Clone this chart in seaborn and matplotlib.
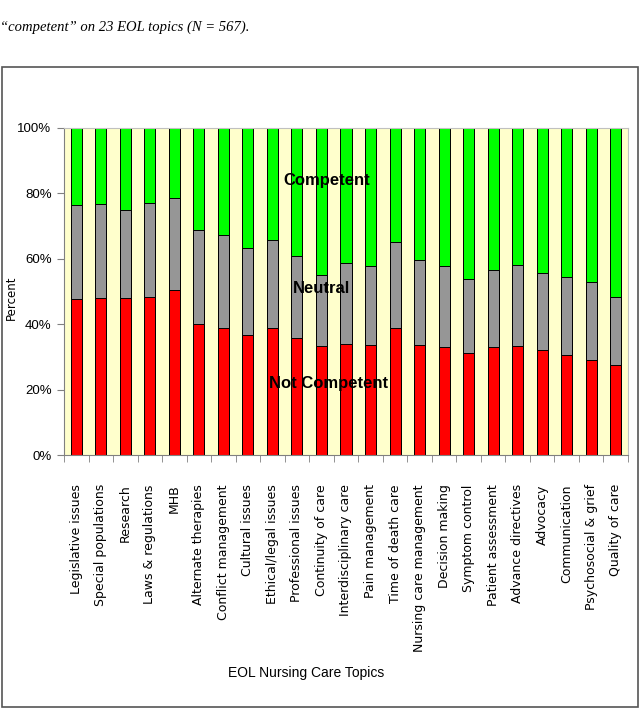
import pandas as pd
import matplotlib.pyplot as plt
import seaborn as sns
from matplotlib.patches import Rectangle

topics = ['Legislative issues', 'Special populations', 'Research', 'Laws & regulations', 'MHB',
          'Alternate therapies', 'Conflict management', 'Cultural issues', 'Ethical/legal issues',
          'Professional issues', 'Continuity of care', 'Interdisciplinary care', 'Pain management',
          'Time of death care', 'Nursing care management', 'Decision making', 'Symptom control',
          'Patient assessment', 'Advance directives', 'Advocacy', 'Communication',
          'Psychosocial & grief', 'Quality of care']

# percent of nurses per rating
not_competent = [47.7, 48.0, 48.0, 48.3, 50.4, 40.2, 38.8, 36.6, 38.8, 35.7, 33.2, 33.9,
                 33.6, 38.8, 33.6, 32.9, 31.2, 32.9, 33.3, 32.2, 30.5, 29.1, 27.6]
neutral = [28.6, 28.7, 27.0, 28.7, 28.1, 28.5, 28.4, 26.8, 27.0, 25.2, 21.7, 24.9,
           24.3, 26.4, 25.9, 25.0, 22.7, 23.7, 24.8, 23.4, 23.8, 23.8, 20.7]

df = pd.DataFrame({'topic': topics, 'not_competent': not_competent, 'neutral': neutral})
df['competent'] = 100 - df['not_competent'] - df['neutral']
df['lower_two'] = df['not_competent'] + df['neutral']
df['total'] = df['lower_two'] + df['competent']

fig = plt.figure(figsize=(6.39, 7.08), dpi=100)
ax = fig.add_axes([64/639, 1-455/708, (628-64)/639, (455-128)/708])
ax.set_facecolor('#FFFFCC')

bar_kw = dict(width=0.45, edgecolor='black', linewidth=0.7, errorbar=None, ax=ax)
sns.barplot(data=df, x='topic', y='total', color='#00FF00', saturation=1, **bar_kw)
sns.barplot(data=df, x='topic', y='lower_two', color='#969696', saturation=1, **bar_kw)
sns.barplot(data=df, x='topic', y='not_competent', color='#FF0000', saturation=1, **bar_kw)

ax.set_xlim(-0.5, len(topics) - 0.5)
ax.set_ylim(0, 100)
ax.set_yticks([0, 20, 40, 60, 80, 100])
ax.set_yticklabels([f'{v}%' for v in [0, 20, 40, 60, 80, 100]], family='Liberation Sans', fontsize=9.5)
ax.set_xticks(range(len(topics)))
ax.set_xticklabels(topics, rotation=90, fontsize=9, family='DejaVu Sans')
ax.set_xticks([i + 0.5 for i in range(-1, len(topics))], minor=True)
ax.tick_params(axis='x', which='major', length=0, pad=21)
ax.tick_params(axis='x', which='minor', length=5, color='#808080')
ax.tick_params(axis='y', length=5, color='#808080', pad=4)
ax.set_xlabel('')
ax.set_ylabel('Percent', fontsize=8.5)
ax.yaxis.set_label_coords((18-64)/564, 0.48)

for side in ['left', 'bottom']:
    ax.spines[side].set_color('#808080')
for side in ['top', 'right']:
    ax.spines[side].set_color('#C0C0C0')

ax.text(10.2, 84, 'Competent', ha='center', va='center', fontsize=12, fontweight='bold',
        family='Liberation Sans')
ax.text(10.0, 51, 'Neutral', ha='center', va='center', fontsize=12, fontweight='bold',
        family='Liberation Sans')
ax.text(10.3, 22, 'Not Competent', ha='center', va='center', fontsize=12, fontweight='bold',
        family='Liberation Sans')

fig.text(306/639, 1-673/708, 'EOL Nursing Care Topics', ha='center', va='center',
         fontsize=10, family='Liberation Sans')
fig.text(0.0, 1-27/708, '\u201ccompetent\u201d on 23 EOL topics (N = 567).', ha='left', va='center',
         fontsize=10.5, style='italic', family='Liberation Serif')

fig.patches.append(Rectangle((1.5/639, 1-706.5/708), 636/639, (706.5-67)/708,
                             transform=fig.transFigure, fill=False, edgecolor='#555555',
                             linewidth=1.2))

fig.savefig('out.png', dpi=100)
